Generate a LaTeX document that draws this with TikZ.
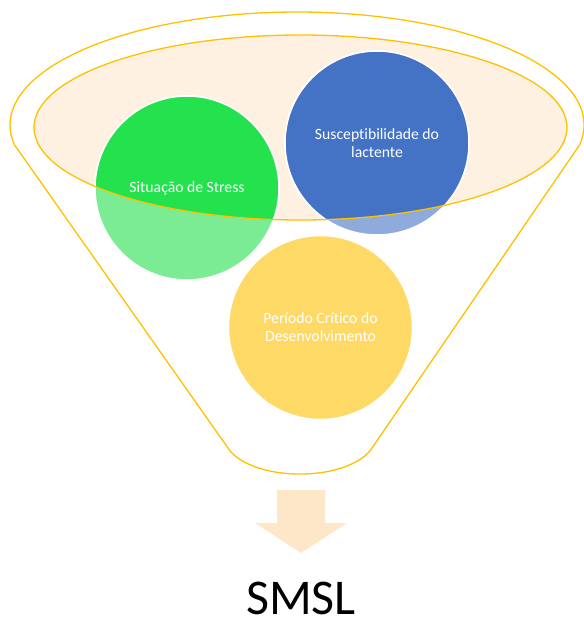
\documentclass[tikz,border=0pt]{standalone}
\usepackage{fontspec}
\setmainfont{Carlito}[Ligatures=NoCommon]
\definecolor{gold}{HTML}{FFC000}
\definecolor{peach}{HTML}{FEF1E1}
\definecolor{arrowpeach}{HTML}{FEE6C9}
\definecolor{greenD}{RGB}{35,226,77}
\definecolor{greenL}{RGB}{124,236,148}
\definecolor{blueD}{RGB}{68,114,196}
\definecolor{blueL}{RGB}{143,170,220}
\definecolor{yellowL}{RGB}{254,217,102}
\tikzset{
  goldline/.style={draw=gold, line width=1.3pt},
  bubble/.style={circle, draw=white, line width=1.5pt, minimum size=184pt, inner sep=0pt},
  bubbletext/.style={text=white, align=center, font=\fontsize{15.7}{18}\selectfont},
}
\begin{document}
\begin{tikzpicture}[x=1pt,y=-1pt]
\useasboundingbox (0,0) rectangle (584,619);
% funnel outline
\draw[goldline, line join=round] (579.5,145) arc[start angle=10.2, end angle=-190.2, x radius=287, y radius=113]
  -- (228,448) .. controls (236,461) and (262,474) .. (300,474)
  .. controls (338,474) and (364,461) .. (372,448) -- cycle;
% inner ellipse fill
\fill[peach] (300.5,127.5) ellipse[x radius=266.5, y radius=92.5];
% circles (light parts)
\node[bubble, fill=greenL] (stress) at (187,188) {};
\node[bubble, fill=blueL] (lact) at (377,143) {};
\node[bubble, fill=yellowL] (crit) at (320.5,327.5) {};
% saturated parts inside the ellipse
\begin{scope}
  \clip (300.5,127.5) ellipse[x radius=266.5, y radius=92.5];
  \filldraw[fill=greenD, draw=white, line width=1.5pt] (stress.center) circle[radius=92];
  \filldraw[fill=blueD, draw=white, line width=1.5pt] (lact.center) circle[radius=92];
\end{scope}
% inner ellipse border
\draw[goldline] (300.5,127.5) ellipse[x radius=266.5, y radius=92.5];
% texts
\node[bubbletext] (stresst) at (stress.center) {Situação de Stress};
\node[bubbletext] (lactt) at (lact.center) {Susceptibilidade do\\lactente};
\node[bubbletext] (critt) at (crit.center) {Período Crítico do\\Desenvolvimento};
% arrow
\coordinate (a1) at (277,490);
\coordinate (a2) at (325,490);
\coordinate (a3) at (325,523);
\coordinate (a4) at (347,523);
\coordinate (tip) at (301,553);
\coordinate (a6) at (255,523);
\coordinate (a7) at (277,523);
\fill[arrowpeach] (a1) -- (a2) -- (a3) -- (a4) -- (tip) -- (a6) -- (a7) -- cycle;
% result
\node[anchor=base, font=\fontsize{50}{60}\selectfont, inner sep=0pt] (smsl) at (301,614) {SMSL};
\end{tikzpicture}
\end{document}
